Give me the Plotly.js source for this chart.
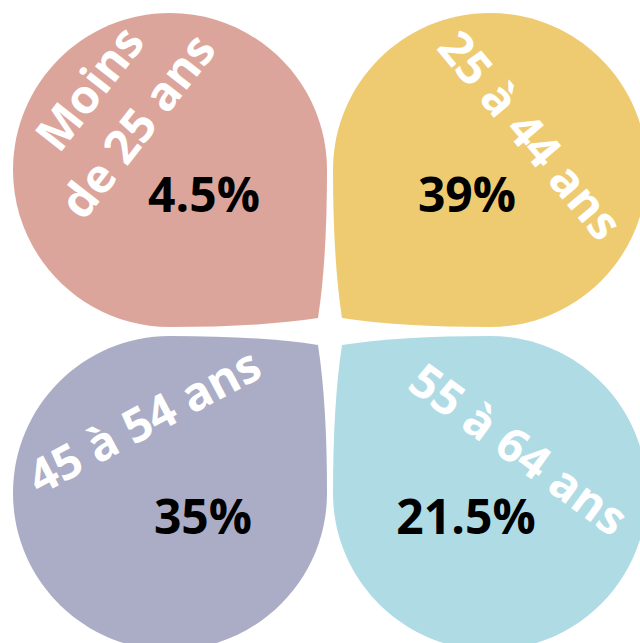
<!DOCTYPE html>
<html><head><meta charset="utf-8">
<script src="https://cdn.plot.ly/plotly-3.0.1.min.js"></script>
<style>html,body{margin:0;padding:0;background:#fff}#chart{width:640px;height:643px}</style>
</head><body><div id="chart"></div>
<script>
// ---- data ----
const categories = ["Moins<br>de 25 ans", "25 à 44 ans", "45 à 54 ans", "55 à 64 ans"];
const values = [4.5, 39, 35, 21.5];
const colors = ["#dca59b", "#eecb71", "#aaadc5", "#afdbe5"];

// ---- layout geometry (positions of petals and texts) ----
const centers = [[170,170],[490,170],[170,493],[490,493]];
const tipDir = [[1,1],[-1,1],[1,-1],[-1,-1]];
const R = 157, T = 148, C = 90;
const labelPos = [[112,106],[531,134],[143,420],[519,448]];
const labelAngle = [-52, 50, -28, 36];
const valuePos = [[204,200],[467,200],[203,522],[466,522]];

function petal(cx, cy, sx, sy) {
  const k = 0.5523 * R;
  const P = (dx, dy) => (cx + sx*dx).toFixed(1) + ',' + (cy + sy*dy).toFixed(1);
  return 'M' + P(R,0) +
    ' Q' + P(R,C) + ' ' + P(T,T) +
    ' Q' + P(C,R) + ' ' + P(0,R) +
    ' C' + P(-k,R) + ' ' + P(-R,k) + ' ' + P(-R,0) +
    ' C' + P(-R,-k) + ' ' + P(-k,-R) + ' ' + P(0,-R) +
    ' C' + P(k,-R) + ' ' + P(R,-k) + ' ' + P(R,0) + ' Z';
}

const shapes = categories.map((c, i) => ({
  type: 'path', xref: 'x', yref: 'y', layer: 'below',
  path: petal(centers[i][0], centers[i][1], tipDir[i][0], tipDir[i][1]),
  fillcolor: colors[i], line: {width: 0}
}));

const annotations = categories.map((c, i) => ({
  x: labelPos[i][0], y: labelPos[i][1], xref: 'x', yref: 'y',
  text: c, showarrow: false, textangle: labelAngle[i],
  xanchor: 'center', yanchor: 'middle',
  font: {family: 'Open Sans', size: 47, color: '#ffffff', weight: 'bold'}
}));

const trace = {
  type: 'scatter', mode: 'text',
  x: valuePos.map(p => p[0]), y: valuePos.map(p => p[1]),
  text: values.map(v => v + '%'),
  textposition: 'middle center',
  textfont: {family: 'Open Sans', size: 48, color: '#000000', weight: 'bold'},
  hoverinfo: 'none', showlegend: false
};

const layout = {
  width: 640, height: 643,
  margin: {l: 0, r: 0, t: 0, b: 0, pad: 0},
  paper_bgcolor: '#ffffff', plot_bgcolor: '#ffffff',
  xaxis: {range: [0, 640], visible: false, fixedrange: true},
  yaxis: {range: [643, 0], visible: false, fixedrange: true},
  shapes: shapes, annotations: annotations, showlegend: false
};

Plotly.newPlot('chart', [trace], layout, {staticPlot: true, displayModeBar: false});
</script>
</body></html>
